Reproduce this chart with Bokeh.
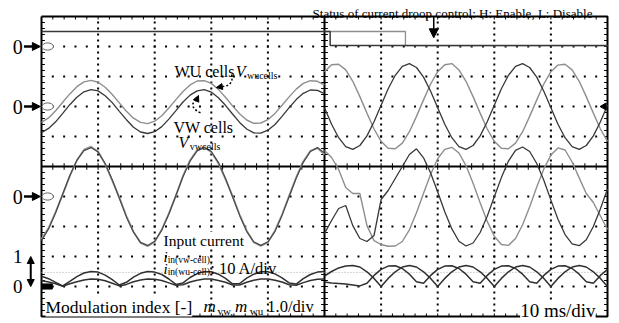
import numpy as np
from bokeh.plotting import figure
from bokeh.models import Range1d, Arrow, NormalHead
from bokeh.core.properties import value
from bokeh.embed import file_html
from bokeh.resources import INLINE

# ---------------- data (time in scope divisions, 10 ms/div) ----------------
t_left = [round(i * 0.125, 3) for i in range(41)]        # 0 .. 5 div
t_right = [round(5 + i * 0.125, 3) for i in range(41)]   # 5 .. 10 div

# status of current droop control (div above its zero marker)
status_a_t = [0.0, 5.1, 5.1, 10.0]
status_a = [0.5, 0.5, 0.03, 0.03]
status_b_t = [5.0, 6.43, 6.43, 10.0]
status_b = [0.5, 0.5, 0.03, 0.03]

# cell voltages (div above their zero marker)
v_wu_left = [-0.53, -0.38, -0.14, 0.14, 0.42, 0.66, 0.82, 0.87, 0.81, 0.64, 0.40, 0.12, -0.16, -0.39,
             -0.53, -0.57, -0.49, -0.31, -0.05, 0.23, 0.50, 0.72, 0.85, 0.86, 0.77, 0.57, 0.31, 0.02,
             -0.24, -0.45, -0.56, -0.55, -0.44, -0.23, 0.04, 0.32, 0.58, 0.77, 0.86, 0.84, 0.71]
v_vw_left = [-0.87, -0.73, -0.51, -0.23, 0.06, 0.31, 0.49, 0.56, 0.52, 0.36, 0.13, -0.16, -0.44, -0.69,
             -0.85, -0.90, -0.84, -0.67, -0.42, -0.14, 0.15, 0.38, 0.52, 0.56, 0.48, 0.29, 0.04, -0.25,
             -0.53, -0.75, -0.88, -0.89, -0.79, -0.60, -0.33, -0.04, 0.23, 0.44, 0.55, 0.54, 0.43]
v_wu_right = [1.16, 1.39, 1.41, 1.22, 0.84, 0.33, -0.22, -0.75, -1.16, -1.39, -1.41, -1.22, -0.84, -0.33,
              0.22, 0.75, 1.16, 1.39, 1.43, 1.22, 0.84, 0.33, -0.22, -0.75, -1.16, -1.39, -1.41, -1.22,
              -0.84, -0.33, 0.22, 0.75, 1.16, 1.38, 1.41, 1.22, 0.84, 0.33, -0.22, -0.75, -1.16]
v_vw_right = [-0.04, -0.59, -1.04, -1.34, -1.43, -1.30, -0.98, -0.51, 0.04, 0.59, 1.04, 1.34, 1.43, 1.30,
              0.98, 0.51, -0.04, -0.59, -1.04, -1.34, -1.43, -1.30, -0.98, -0.51, 0.04, 0.59, 1.04, 1.34,
              1.43, 1.30, 0.98, 0.51, -0.04, -0.59, -1.04, -1.34, -1.43, -1.30, -0.98, -0.51, 0.04]

# input currents [A] (10 A/div)
i_vw_left = [-14.7, -10.8, -5.4, 0.9, 7.0, 12.1, 15.3, 16.3, 14.8, 11.0, 5.6, -0.6, -6.8, -11.9,
             -15.3, -16.3, -14.9, -11.2, -5.9, 0.4, 6.6, 11.8, 15.2, 16.3, 15.0, 11.4, 6.1, -0.1,
             -6.3, -11.6, -15.1, -16.3, -15.1, -11.6, -6.3, -0.1, 6.1, 11.4, 15.0, 16.3, 14.5]
i_wu_left = [-14.2, -10.5, -5.1, 0.6, 6.8, 12.0, 15.6, 16.6, 15.0, 10.8, 5.3, -0.3, -6.5, -11.7,
             -15.5, -16.6, -15.2, -11.0, -5.6, 0.2, 6.9, 12.1, 15.5, 16.5, 14.8, 11.1, 5.8, 0.2,
             -6.0, -11.4, -15.3, -16.5, -15.3, -11.4, -6.0, 0.2, 6.4, 11.7, 15.2, 16.1, 14.0]
i_wu_right = [15.3, 13.0, 9.0, 3.0, 1.0, 1.0, -9.7, -14.7, -16.0, -16.6, -16.5, -15.0, -11.1, -5.4,
              1.1, 7.4, 12.6, 15.7, 16.4, 14.5, 10.3, 4.4, -2.1, -8.3, -13.2, -16.0, -16.3, -14.0,
              -9.4, -3.4, 3.2, 9.2, 13.8, 16.2, 15.5, 11.5, 6.2, 1.0, -2.0, -6.5, -11.0]
i_vw_right = [-12.3, -8.0, -4.0, -3.0, -9.7, -14.0, -15.0, -13.0, -1.0, 2.0, 6.0, 10.0, 14.0, 15.9,
              12.9, 7.8, 1.5, -5.1, -10.8, -14.9, -16.5, -15.5, -12.0, -6.6, -0.1, 6.3, 11.8, 15.4,
              16.5, 15.0, 11.0, 5.4, -1.2, -7.6, -12.7, -15.8, -16.4, -14.4, -10.0, -4.1, 2.5]

# modulation indices [-] (1.0/div)
m_vw_left = [0.34, 0.26, 0.14, 0.02, 0.17, 0.33, 0.45, 0.50, 0.48, 0.38, 0.23, 0.05, 0.14, 0.31,
             0.44, 0.50, 0.48, 0.40, 0.25, 0.07, 0.12, 0.30, 0.43, 0.49, 0.49, 0.41, 0.27, 0.09,
             0.10, 0.28, 0.41, 0.49, 0.49, 0.42, 0.29, 0.12, 0.08, 0.26, 0.40, 0.48, 0.50]
m_wu_left = [0.19, 0.15, 0.09, 0.01, 0.09, 0.16, 0.22, 0.25, 0.24, 0.19, 0.11, 0.02, 0.07, 0.16,
             0.22, 0.25, 0.24, 0.20, 0.12, 0.04, 0.06, 0.15, 0.21, 0.25, 0.25, 0.20, 0.14, 0.05,
             0.05, 0.14, 0.21, 0.25, 0.25, 0.21, 0.15, 0.06, 0.04, 0.13, 0.20, 0.24, 0.25]
m_wu_right = [0.15, 0.12, 0.10, 0.08, 0.05, 0.02, 0.11, 0.37, 0.57, 0.68, 0.69, 0.60, 0.41, 0.16,
              0.11, 0.37, 0.57, 0.68, 0.69, 0.60, 0.41, 0.16, 0.11, 0.37, 0.57, 0.68, 0.69, 0.60,
              0.41, 0.16, 0.11, 0.37, 0.57, 0.68, 0.69, 0.60, 0.41, 0.16, 0.11, 0.37, 0.57]
m_vw_right = [0.35, 0.50, 0.62, 0.68, 0.70, 0.65, 0.49, 0.27, 0.0, 0.27, 0.49, 0.65, 0.70, 0.65,
              0.49, 0.27, 0.0, 0.27, 0.49, 0.65, 0.70, 0.65, 0.49, 0.27, 0.0, 0.27, 0.49, 0.65,
              0.70, 0.65, 0.49, 0.27, 0.0, 0.27, 0.49, 0.65, 0.70, 0.65, 0.49, 0.27, 0.0]
m_reference = 0.47

# channel zero markers (div from screen centre) and scales
ZERO_STATUS, ZERO_V, ZERO_I, ZERO_M = 4.0, 2.0, -1.0, -4.0
A_PER_DIV, M_PER_DIV = 10.0, 1.0

# ---------------- figure ----------------
W, H = 619, 323
PXX, PXY = 56.6, 30.0
x_start = -41 / PXX
y_end = 5 + 16 / PXY
p = figure(width=W, height=H, output_backend="svg", toolbar_location=None,
           x_range=Range1d(x_start, x_start + W / PXX), y_range=Range1d(y_end - H / PXY, y_end),
           x_axis_location=None, y_axis_location=None, min_border=0,
           outline_line_color=None, background_fill_color="white", border_fill_color="white")
p.grid.visible = False

FONT = value("Liberation Serif")
LIGHT, DARK = "#8e8e8e", "#383838"

# dotted graticule
hx, hy = [], []
for r in [-4, -3, -2, -1, 1, 2, 3, 4]:
    for xx in np.arange(0.2, 9.9, 0.2):
        if abs(xx - 5) > 0.05:
            hx.append(xx); hy.append(r)
for c in [1, 2, 3, 4, 6, 7, 8, 9]:
    for yy in np.arange(-4.8, 4.9, 0.2):
        if abs(yy) > 0.05:
            hx.append(c); hy.append(yy)
p.scatter(hx, hy, marker="square", size=2, color="black", line_width=0)

# ticks on border and centre lines
sx0, sy0, sx1, sy1 = [], [], [], []
for xx in np.arange(0.2, 9.9, 0.2):
    sx0 += [xx, xx, xx]; sx1 += [xx, xx, xx]
    sy0 += [5, -5, -0.11]; sy1 += [4.9, -4.9, 0.11]
for yy in np.arange(-4.8, 4.9, 0.2):
    sy0 += [yy, yy, yy]; sy1 += [yy, yy, yy]
    sx0 += [0, 10, 4.94]; sx1 += [0.06, 9.94, 5.06]
p.segment(sx0, sy0, sx1, sy1, color="black", line_width=1)
p.segment([0, 5], [0, -5], [10, 5], [0, 5], color="black", line_width=2)
p.line([0, 10, 10, 0, 0], [5, 5, -5, -5, 5], color="black", line_width=2)

# reference line of the modulation channel
p.line([0, 10], [ZERO_M + m_reference / M_PER_DIV] * 2, color="#aaaaaa", line_dash="1 2", line_width=1)

# status traces
p.line(status_b_t, [ZERO_STATUS + v for v in status_b], color=LIGHT, line_width=1.3)
p.line(status_a_t, [ZERO_STATUS + v for v in status_a], color=DARK, line_width=1.5)

# voltages
p.line(t_left, [ZERO_V + v for v in v_wu_left], color=LIGHT, line_width=1.4)
p.line(t_left, [ZERO_V + v for v in v_vw_left], color=DARK, line_width=1.3)
p.line(t_right, [ZERO_V + v for v in v_wu_right], color=LIGHT, line_width=1.4)
p.line(t_right, [ZERO_V + v for v in v_vw_right], color=DARK, line_width=1.3)

# currents
p.line(t_left, [ZERO_I + v / A_PER_DIV for v in i_wu_left], color="#9a9a9a", line_width=1.8)
p.line(t_left, [ZERO_I + v / A_PER_DIV for v in i_vw_left], color="#4a4a4a", line_width=1.2)
p.line(t_right, [ZERO_I + v / A_PER_DIV for v in i_wu_right], color=LIGHT, line_width=1.4)
p.line(t_right, [ZERO_I + v / A_PER_DIV for v in i_vw_right], color=DARK, line_width=1.3)

# modulation indices
for tt, mm in [(t_left, m_vw_left), (t_left, m_wu_left), (t_right, m_wu_right), (t_right, m_vw_right)]:
    p.line(tt, [ZERO_M + v / M_PER_DIV for v in mm], color="#303030", line_width=1.5)

# ground markers
p.ellipse(x=[0.11] * 3, y=[ZERO_STATUS, ZERO_V, ZERO_I], width=0.2, height=0.24,
          fill_color="white", line_color="#666666", line_width=1)
p.rect(x=[0.1], y=[ZERO_M], width=0.18, height=0.17, color="black")
p.scatter(x=[9.94], y=[ZERO_V], marker="triangle", angle=np.pi / 2, size=7, color="black")


def txt(x, y, s, size, italic=False, align="left", baseline="alphabetic", bg=False):
    p.text(x=[x], y=[y], text=[s], text_font=FONT, text_font_size=f"{size}px",
           text_font_style="italic" if italic else "normal", text_align=align,
           text_baseline=baseline, text_color="black",
           background_fill_color="white" if bg else None)


# left-hand markers
for yy in [ZERO_STATUS, ZERO_V, ZERO_I]:
    txt(-0.42, yy, "0", 20, align="center", baseline="middle")
    p.add_layout(Arrow(end=NormalHead(size=8, fill_color="black", line_color="black"),
                       x_start=-0.31, y_start=yy, x_end=-0.02, y_end=yy, line_width=2.5))
txt(-0.42, ZERO_M + 1, "1", 19, align="center", baseline="middle")
txt(-0.42, ZERO_M, "0", 19, align="center", baseline="middle")
p.add_layout(Arrow(start=NormalHead(size=7, fill_color="black", line_color="black"),
                   end=NormalHead(size=7, fill_color="black", line_color="black"),
                   x_start=-0.19, y_start=ZERO_M + 1, x_end=-0.19, y_end=ZERO_M, line_width=2))

# texts
txt(4.79, 5.09, "Status of current droop control: H: Enable, L: Disable", 13)
p.add_layout(Arrow(end=NormalHead(size=9, fill_color="black", line_color="black"),
                   x_start=6.93, y_start=5.0, x_end=6.93, y_end=4.29, line_width=1.5))

txt(2.35, 3.167, "WU cells", 16)
txt(3.43, 3.167, "V", 16, italic=True)
txt(3.63, 3.03, "wucells", 10)
txt(2.33, 1.30, "VW cells", 16)
txt(2.42, 0.80, "V", 16, italic=True)
txt(2.62, 0.667, "vwcells", 10)

# curved dashed pointers
p.bezier(x0=[3.357], y0=[3.067], x1=[3.20], y1=[2.667], cx0=[3.40], cy0=[2.80], cx1=[3.30], cy1=[2.667],
         color="black", line_width=1.5, line_dash="2 2")
p.add_layout(Arrow(end=NormalHead(size=6, fill_color="black", line_color="black"),
                   x_start=3.20, y_start=2.667, x_end=3.09, y_end=2.633, line_width=1.2))
p.bezier(x0=[2.809], y0=[1.79], x1=[2.739], y1=[2.22], cx0=[2.62], cy0=[1.95], cx1=[2.66], cy1=[2.15],
         color="black", line_width=1.5, line_dash="2 2")
p.add_layout(Arrow(end=NormalHead(size=6, fill_color="black", line_color="black"),
                   x_start=2.739, y_start=2.22, x_end=2.774, y_end=2.367, line_width=1.2))

txt(2.155, -2.467, "Input current", 15.5, bg=True)
txt(2.155, -3.0, "i", 15, italic=True)
txt(2.23, -3.1, "in(vw-cell),", 9.5)
txt(2.155, -3.4, "i", 15, italic=True)
txt(2.23, -3.5, "in(wu-cell)", 9.5)
txt(2.98, -3.4, ": 10 A/div", 16.5)

txt(0.07, -4.67, "Modulation index [-]", 17.5, bg=True)
txt(2.86, -4.67, "m", 17, italic=True)
txt(3.11, -4.8, "vw,", 11)
txt(3.42, -4.67, "m", 17, italic=True)
txt(3.68, -4.8, "wu", 11)
txt(3.99, -4.67, "1.0/div", 16.5)
txt(9.79, -4.8, "10 ms/div", 19, align="right", bg=True)

open("out.html", "w").write(file_html(p, INLINE))
